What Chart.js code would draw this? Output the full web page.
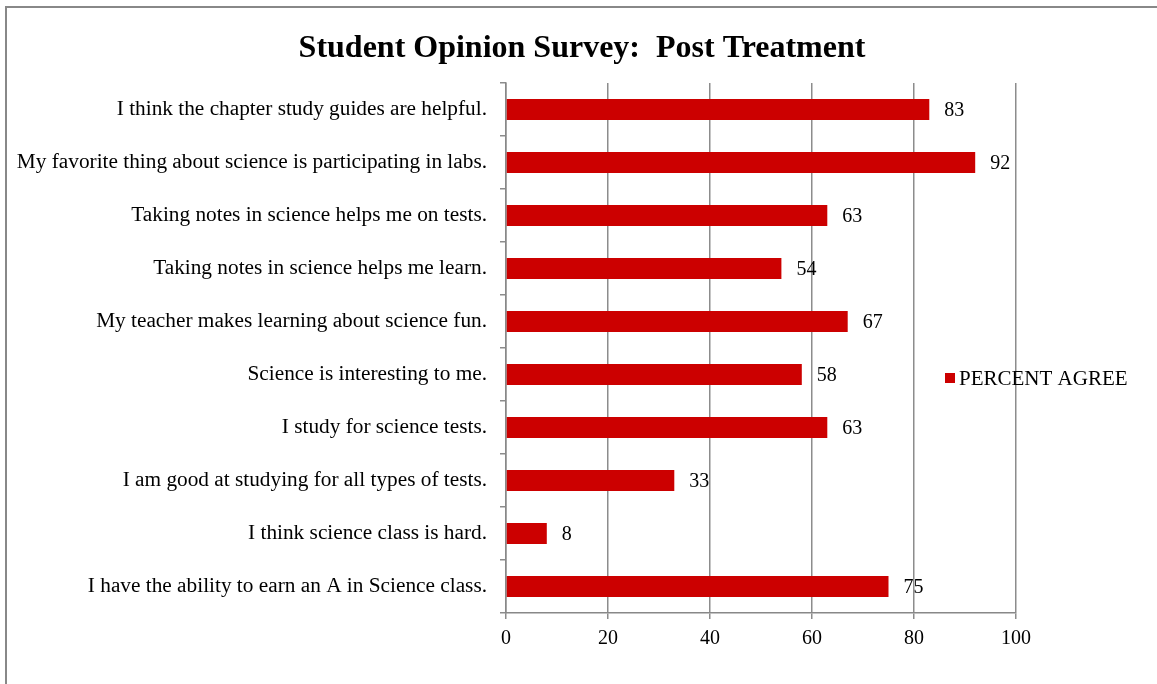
<!DOCTYPE html>
<html>
<head>
<meta charset="utf-8">
<script src="https://cdn.jsdelivr.net/npm/chart.js@4"></script>
<style>
  html, body { margin: 0; padding: 0; background: #fff; }
  #wrap { position: relative; width: 1157px; height: 684px; overflow: hidden; }
  #frame { position: absolute; left: 5px; top: 6px; width: 1300px; height: 900px;
           border-top: 2px solid #888; border-left: 2px solid #888; }
  canvas { position: absolute; left: 0; top: 0; }
</style>
</head>
<body>
<div id="wrap">
  <div id="frame"></div>
  <canvas id="surveyChart" width="1157" height="684"></canvas>
</div>
<script>
const statements = [
    'I think the chapter study guides are helpful.',
    'My favorite thing about science is participating in labs.',
    'Taking notes in science helps me on tests.',
    'Taking notes in science helps me learn.',
    'My teacher makes learning about science fun.',
    'Science is interesting to me.',
    'I study for science tests.',
    'I am good at studying for all types of tests.',
    'I think science class is hard.',
    'I have the ability to earn an A in Science class.'
];
const percentAgree = [83, 92, 63, 54, 67, 58, 63, 33, 8, 75];
const xTicks = [0, 20, 40, 60, 80, 100];

const SERIF = "'Liberation Serif', 'Times New Roman', serif";
const RED = '#CC0000';

// title is centred a bit right of the canvas middle, like the original
const titleShift = {
    id: 'titleShift',
    afterLayout(chart) {
        chart.titleBlock.left = 148;
    }
};

// value labels next to each bar
const barValues = {
    id: 'barValues',
    afterDatasetsDraw(chart) {
        const ctx = chart.ctx;
        const meta = chart.getDatasetMeta(0);
        ctx.save();
        ctx.font = '20px ' + SERIF;
        ctx.fillStyle = '#000';
        ctx.textAlign = 'left';
        ctx.textBaseline = 'middle';
        meta.data.forEach((bar, i) => {
            ctx.fillText(String(percentAgree[i]), bar.x + 15, bar.y + 1);
        });
        ctx.restore();
    }
};

// legend sits over the right part of the plot
const sideLegend = {
    id: 'sideLegend',
    afterDraw(chart) {
        const ctx = chart.ctx;
        const area = chart.chartArea;
        const cy = (area.top + area.bottom) / 2 + 30;
        ctx.save();
        ctx.fillStyle = RED;
        ctx.fillRect(945, cy - 5, 10, 10);
        ctx.font = '21px ' + SERIF;
        ctx.fillStyle = '#000';
        ctx.textAlign = 'left';
        ctx.textBaseline = 'middle';
        ctx.fillText('PERCENT AGREE', 959, cy + 1);
        ctx.restore();
    }
};

const config = {
    type: 'bar',
    data: {
        labels: statements,
        datasets: [
            {
                label: 'PERCENT AGREE',
                data: percentAgree,
                backgroundColor: RED,
                borderWidth: 0,
                categoryPercentage: 0.8,
                barPercentage: 0.5,
            }
        ]
    },
    options: {
        indexAxis: 'y',
        responsive: false,
        animation: false,
        layout: {
            padding: {top: 0, left: 0, right: 141, bottom: 0}
        },
        plugins: {
            legend: {display: false},
            tooltip: {enabled: false},
            title: {
                display: true,
                text: 'Student Opinion Survey:  Post Treatment',
                color: '#000',
                padding: {top: 30, bottom: 14.6},
                font: {
                    size: 32,
                    family: SERIF,
                    weight: 'bold',
                    lineHeight: 1.2,
                }
            },
        },
        scales: {
            x: {
                min: 0,
                max: 100,
                afterBuildTicks(scale) {
                    scale.ticks = xTicks.map(v => ({value: v}));
                },
                afterFit(scale) {
                    scale.height = 71;
                },
                border: {display: true, color: '#888', width: 1.5},
                grid: {
                    color: '#8c8c8c',
                    lineWidth: 1.5,
                    tickLength: 6,
                    drawTicks: true,
                },
                ticks: {
                    color: '#000',
                    padding: 8,
                    font: {size: 20, family: SERIF},
                }
            },
            y: {
                afterFit(scale) {
                    scale.width = 506;
                },
                border: {display: true, color: '#888', width: 1.5},
                grid: {
                    drawOnChartArea: false,
                    color: '#8c8c8c',
                    lineWidth: 1.5,
                    tickLength: 6,
                },
                ticks: {
                    color: '#000',
                    padding: 13,
                    autoSkip: false,
                    font: {size: 21.3, family: SERIF},
                }
            }
        }
    },
    plugins: [titleShift, barValues, sideLegend]
};

const surveyChart = new Chart(
    document.getElementById('surveyChart'),
    config,
);
</script>
</body>
</html>
